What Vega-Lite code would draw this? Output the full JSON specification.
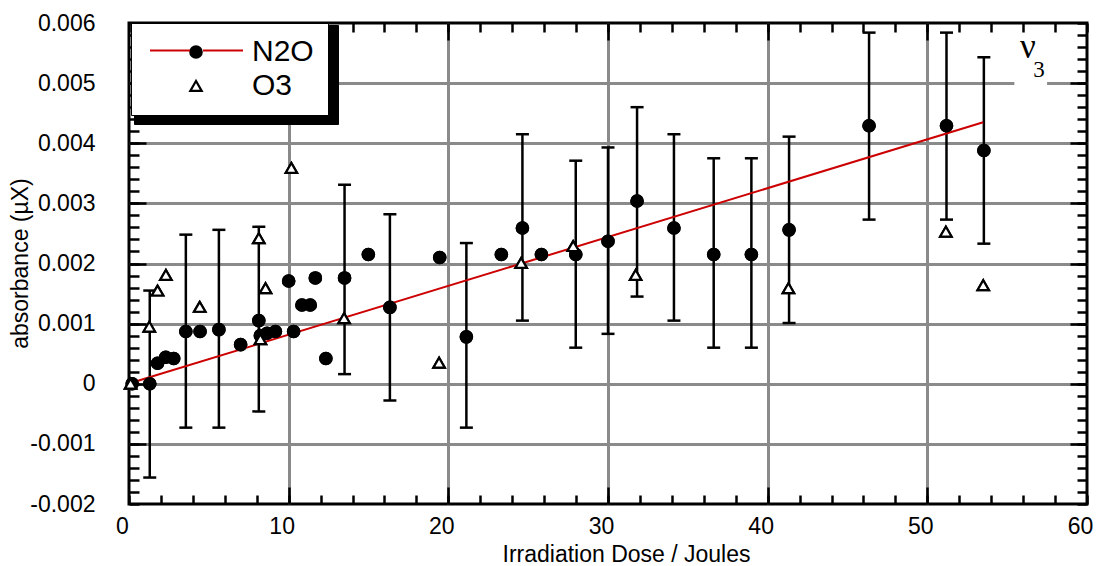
{
  "$schema": "https://vega.github.io/schema/vega-lite/v6.json",
  "width": 958,
  "height": 481,
  "autosize": {"type": "none"},
  "padding": {"left": 129, "top": 23, "right": 9, "bottom": 62},
  "background": "white",
  "config": {
    "font": "Liberation Sans",
    "view": {"stroke": "black", "strokeWidth": 3},
    "axis": {"labelFont": "Liberation Sans", "titleFont": "Liberation Sans", "labelColor": "black", "titleColor": "black", "titleFontWeight": "normal"}
  },
  "datasets": {
    "pts": [
      {"series": "N2O", "x": 0.2, "y": 0},
      {"series": "N2O", "x": 1.3, "y": 0},
      {"series": "N2O", "x": 1.79, "y": 0.00034},
      {"series": "N2O", "x": 2.3, "y": 0.00044},
      {"series": "N2O", "x": 2.8, "y": 0.00042},
      {"series": "N2O", "x": 3.56, "y": 0.00087},
      {"series": "N2O", "x": 4.45, "y": 0.00087},
      {"series": "N2O", "x": 5.63, "y": 0.0009},
      {"series": "N2O", "x": 6.99, "y": 0.00065},
      {"series": "N2O", "x": 8.13, "y": 0.00105},
      {"series": "N2O", "x": 8.23, "y": 0.0008},
      {"series": "N2O", "x": 8.65, "y": 0.00084},
      {"series": "N2O", "x": 9.17, "y": 0.00087},
      {"series": "N2O", "x": 10.0, "y": 0.00171},
      {"series": "N2O", "x": 10.31, "y": 0.00087},
      {"series": "N2O", "x": 10.83, "y": 0.00131},
      {"series": "N2O", "x": 11.35, "y": 0.00131},
      {"series": "N2O", "x": 11.67, "y": 0.00176},
      {"series": "N2O", "x": 12.33, "y": 0.00042},
      {"series": "N2O", "x": 13.5, "y": 0.00176},
      {"series": "N2O", "x": 14.99, "y": 0.00215},
      {"series": "N2O", "x": 16.34, "y": 0.00127},
      {"series": "N2O", "x": 19.46, "y": 0.0021},
      {"series": "N2O", "x": 21.13, "y": 0.00078},
      {"series": "N2O", "x": 23.32, "y": 0.00215},
      {"series": "N2O", "x": 24.64, "y": 0.00259},
      {"series": "N2O", "x": 25.83, "y": 0.00215},
      {"series": "N2O", "x": 27.98, "y": 0.00215},
      {"series": "N2O", "x": 30.0, "y": 0.00237},
      {"series": "N2O", "x": 31.82, "y": 0.00304},
      {"series": "N2O", "x": 34.13, "y": 0.00259},
      {"series": "N2O", "x": 36.62, "y": 0.00215},
      {"series": "N2O", "x": 38.98, "y": 0.00215},
      {"series": "N2O", "x": 41.34, "y": 0.00256},
      {"series": "N2O", "x": 46.35, "y": 0.00429},
      {"series": "N2O", "x": 51.2, "y": 0.00429},
      {"series": "N2O", "x": 53.54, "y": 0.00388},
      {"series": "O3", "x": 0.1, "y": 0},
      {"series": "O3", "x": 1.27, "y": 0.00095},
      {"series": "O3", "x": 1.79, "y": 0.00155},
      {"series": "O3", "x": 2.31, "y": 0.00181},
      {"series": "O3", "x": 4.43, "y": 0.00128},
      {"series": "O3", "x": 8.13, "y": 0.00242},
      {"series": "O3", "x": 8.23, "y": 0.00074},
      {"series": "O3", "x": 8.55, "y": 0.00159},
      {"series": "O3", "x": 10.17, "y": 0.00359},
      {"series": "O3", "x": 13.47, "y": 0.00109},
      {"series": "O3", "x": 19.42, "y": 0.00035},
      {"series": "O3", "x": 24.56, "y": 0.00201},
      {"series": "O3", "x": 27.82, "y": 0.00229},
      {"series": "O3", "x": 31.73, "y": 0.00181},
      {"series": "O3", "x": 41.3, "y": 0.00159},
      {"series": "O3", "x": 51.16, "y": 0.00253},
      {"series": "O3", "x": 53.5, "y": 0.00164}
    ],
    "err": [
      {"x": 1.3, "lo": -0.00156, "hi": 0.00155},
      {"x": 3.56, "lo": -0.00073, "hi": 0.00248},
      {"x": 5.63, "lo": -0.00073, "hi": 0.00256},
      {"x": 8.13, "lo": -0.00046, "hi": 0.00261},
      {"x": 13.5, "lo": 0.00016, "hi": 0.00331},
      {"x": 16.34, "lo": -0.00028, "hi": 0.00282},
      {"x": 21.13, "lo": -0.00073, "hi": 0.00234},
      {"x": 24.64, "lo": 0.00105, "hi": 0.00415},
      {"x": 27.98, "lo": 0.0006, "hi": 0.00371},
      {"x": 30.0, "lo": 0.00083, "hi": 0.00393},
      {"x": 31.82, "lo": 0.00145, "hi": 0.0046},
      {"x": 34.13, "lo": 0.00105, "hi": 0.00415},
      {"x": 36.62, "lo": 0.0006, "hi": 0.00375},
      {"x": 38.98, "lo": 0.0006, "hi": 0.00375},
      {"x": 41.34, "lo": 0.00101, "hi": 0.00411},
      {"x": 46.35, "lo": 0.00273, "hi": 0.00584},
      {"x": 51.2, "lo": 0.00273, "hi": 0.00584},
      {"x": 53.54, "lo": 0.00233, "hi": 0.00543}
    ],
    "fit": [
      {"series": "N2O", "x": 0.2, "y": 0.00002},
      {"series": "N2O", "x": 53.5, "y": 0.00435}
    ],
    "note": [
      {"nu": "ν", "sub": "3"}
    ]
  },
  "resolve": {"axis": {"x": "independent", "y": "independent"}},
  "layer": [
    {
      "data": {"name": "pts"},
      "mark": {"type": "point", "opacity": 0},
      "encoding": {
        "x": {"field": "x", "type": "quantitative", "scale": {"domain": [0, 60], "nice": false, "zero": false},
          "axis": {"orient": "bottom", "values": [0, 10, 20, 30, 40, 50, 60], "ticks": false, "tickSize": 0, "grid": false, "domain": false,
            "labelFontSize": 23, "labelPadding": 11, "labelOffset": -7, "labelFlush": false, "labelOverlap": false,
            "title": "Irradiation Dose / Joules", "titleFontSize": 23, "titleX": 497, "titleY": 57, "titleBaseline": "alphabetic", "titleAlign": "center"}},
        "y": {"field": "y", "type": "quantitative", "scale": {"domain": [-0.002, 0.006], "nice": false, "zero": false},
          "axis": {"orient": "left", "values": [-0.002, -0.001, 0, 0.001, 0.002, 0.003, 0.004, 0.005, 0.006], "ticks": false, "tickSize": 0, "grid": false, "domain": false,
            "labelExpr": "datum.value == 0 ? '0' : '' + datum.value",
            "labelFontSize": 23, "labelPadding": 34, "labelFlush": false, "labelOverlap": false,
            "title": "absorbance (µX)", "titleFontSize": 23, "titleX": -109, "titleY": 240, "titleAngle": 270, "titleBaseline": "middle", "titleAlign": "center"}},
        "size": {"field": "series", "type": "nominal", "scale": {"domain": ["O3", "N2O"], "range": [130, 130]},
          "legend": {"orient": "none", "legendX": 5, "legendY": 2, "title": null, "padding": 17.5, "rowPadding": 4, "symbolSize": 130, "symbolStrokeWidth": 2.2,
            "symbolOffset": 36, "labelOffset": 41, "labelFontSize": 30, "labelFont": "Liberation Sans", "labelColor": "black", "labelLimit": 400,
            "fillColor": "black", "strokeColor": "black"}}
      }
    },
    {
      "data": {"name": "pts"},
      "mark": {"type": "point", "opacity": 1, "size": 130, "stroke": "black", "strokeWidth": 2.2},
      "encoding": {
        "x": {"field": "x", "type": "quantitative",
          "axis": {"orient": "bottom", "values": [10, 20, 30, 40, 50], "tickSize": -17, "tickWidth": 2.5, "tickColor": "black", "labels": false, "domain": false, "title": null,
            "grid": true, "gridColor": "#8a8a8a", "gridWidth": 3}},
        "y": {"field": "y", "type": "quantitative",
          "axis": {"orient": "left", "values": [-0.001, 0, 0.001, 0.002, 0.003, 0.004, 0.005], "tickSize": -17, "tickWidth": 2.5, "tickColor": "black", "labels": false, "domain": false, "title": null,
            "grid": true, "gridColor": "#8a8a8a", "gridWidth": 3}},
        "shape": {"field": "series", "type": "nominal", "scale": {"range": ["circle", "triangle-up"]},
          "legend": {"orient": "none", "legendX": 2, "legendY": 0, "title": null, "padding": 14, "rowPadding": 4, "symbolSize": 130, "symbolStrokeWidth": 2.2,
            "symbolOffset": 36, "labelOffset": 41, "labelFontSize": 30, "labelFont": "Liberation Sans", "labelColor": "black", "labelLimit": 400,
            "fillColor": "white", "strokeColor": "black",
            "encode": {"legend": {"update": {"strokeWidth": {"value": 3}}}, "symbols": {"update": {"stroke": {"value": "black"}, "strokeWidth": {"value": 2.2}, "opacity": {"value": 1}}}}}},
        "fill": {"field": "series", "type": "nominal", "scale": {"range": ["black", "white"]},
          "legend": {"orient": "none", "legendX": 2, "legendY": 0, "title": null, "padding": 14, "rowPadding": 4, "symbolSize": 130, "symbolStrokeWidth": 2.2,
            "symbolOffset": 36, "labelOffset": 41, "labelFontSize": 30, "labelFont": "Liberation Sans", "labelColor": "black", "labelLimit": 400,
            "fillColor": "white", "strokeColor": "black",
            "encode": {"legend": {"update": {"strokeWidth": {"value": 3}}}, "symbols": {"update": {"stroke": {"value": "black"}, "strokeWidth": {"value": 2.2}, "opacity": {"value": 1}}}}}}
      }
    },
    {
      "data": {"name": "err"},
      "mark": {"type": "rule", "color": "black", "strokeWidth": 2.5},
      "encoding": {
        "x": {"field": "x", "type": "quantitative",
          "axis": {"orient": "bottom", "values": [0, 2, 4, 6, 8, 10, 12, 14, 16, 18, 20, 22, 24, 26, 28, 30, 32, 34, 36, 38, 40, 42, 44, 46, 48, 50, 52, 54, 56, 58, 60],
            "tickSize": -9, "tickWidth": 2.5, "tickColor": "black", "labels": false, "domain": false, "grid": false, "title": null}},
        "y": {"field": "lo", "type": "quantitative",
          "axis": {"orient": "left", "values": [-0.002, -0.0018, -0.0016, -0.0014, -0.0012, -0.001, -0.0008, -0.0006, -0.0004, -0.0002, 0, 0.0002, 0.0004, 0.0006, 0.0008, 0.001, 0.0012, 0.0014, 0.0016, 0.0018, 0.002, 0.0022, 0.0024, 0.0026, 0.0028, 0.003, 0.0032, 0.0034, 0.0036, 0.0038, 0.004, 0.0042, 0.0044, 0.0046, 0.0048, 0.005, 0.0052, 0.0054, 0.0056, 0.0058, 0.006],
            "tickSize": -10, "tickWidth": 2.5, "tickColor": "black", "labels": false, "domain": false, "grid": false, "title": null}},
        "y2": {"field": "hi"}
      }
    },
    {
      "data": {"name": "err"},
      "mark": {"type": "tick", "orient": "horizontal", "color": "black", "size": 13, "thickness": 2.5, "opacity": 1},
      "encoding": {
        "x": {"field": "x", "type": "quantitative",
          "axis": {"orient": "top", "values": [10, 20, 30, 40, 50], "tickSize": -17, "tickWidth": 2.5, "tickColor": "black", "labels": false, "domain": false, "grid": false, "title": null}},
        "y": {"field": "lo", "type": "quantitative",
          "axis": {"orient": "right", "values": [-0.001, 0, 0.001, 0.002, 0.003, 0.004, 0.005], "tickSize": -17, "tickWidth": 2.5, "tickColor": "black", "labels": false, "domain": false, "grid": false, "title": null}}
      }
    },
    {
      "data": {"name": "err"},
      "mark": {"type": "tick", "orient": "horizontal", "color": "black", "size": 13, "thickness": 2.5, "opacity": 1},
      "encoding": {
        "x": {"field": "x", "type": "quantitative",
          "axis": {"orient": "top", "values": [0, 2, 4, 6, 8, 10, 12, 14, 16, 18, 20, 22, 24, 26, 28, 30, 32, 34, 36, 38, 40, 42, 44, 46, 48, 50, 52, 54, 56, 58, 60],
            "tickSize": -9, "tickWidth": 2.5, "tickColor": "black", "labels": false, "domain": false, "grid": false, "title": null}},
        "y": {"field": "hi", "type": "quantitative",
          "axis": {"orient": "right", "values": [-0.002, -0.0018, -0.0016, -0.0014, -0.0012, -0.001, -0.0008, -0.0006, -0.0004, -0.0002, 0, 0.0002, 0.0004, 0.0006, 0.0008, 0.001, 0.0012, 0.0014, 0.0016, 0.0018, 0.002, 0.0022, 0.0024, 0.0026, 0.0028, 0.003, 0.0032, 0.0034, 0.0036, 0.0038, 0.004, 0.0042, 0.0044, 0.0046, 0.0048, 0.005, 0.0052, 0.0054, 0.0056, 0.0058, 0.006],
            "tickSize": -10, "tickWidth": 2.5, "tickColor": "black", "labels": false, "domain": false, "grid": false, "title": null}}
      }
    },
    {
      "data": {"name": "fit"},
      "mark": {"type": "line", "strokeWidth": 2},
      "encoding": {
        "x": {"field": "x", "type": "quantitative", "axis": null},
        "y": {"field": "y", "type": "quantitative", "axis": null},
        "stroke": {"field": "series", "type": "nominal", "scale": {"domain": ["N2O"], "range": ["#cc0000"]},
          "legend": {"orient": "none", "legendX": 20, "legendY": -20, "title": null, "padding": 0, "symbolType": "M-1,0L-0.14,0M0.14,0L1,0", "symbolSize": 8649,
            "symbolStrokeWidth": 2, "labelFontSize": 30, "labelColor": "transparent", "labelExpr": "''"}}
      }
    },
    {
      "data": {"name": "pts"},
      "mark": {"type": "point", "opacity": 1, "size": 130, "stroke": "black", "strokeWidth": 2.2},
      "encoding": {
        "x": {"field": "x", "type": "quantitative", "axis": null},
        "y": {"field": "y", "type": "quantitative", "axis": null},
        "shape": {"field": "series", "type": "nominal", "legend": null},
        "fill": {"field": "series", "type": "nominal", "legend": null}
      }
    },
    {
      "data": {"name": "note"},
      "mark": {"type": "rect", "fill": "white"},
      "encoding": {
        "x": {"datum": 55.45, "type": "quantitative", "axis": null},
        "x2": {"datum": 57.5},
        "y": {"datum": 0.00494, "type": "quantitative", "axis": null},
        "y2": {"datum": 0.00506}
      }
    },
    {
      "data": {"name": "note"},
      "mark": {"type": "text", "font": "Liberation Serif", "fontSize": 35, "align": "center", "baseline": "alphabetic", "color": "black"},
      "encoding": {
        "text": {"field": "nu"},
        "x": {"datum": 56.3, "type": "quantitative", "axis": null},
        "y": {"datum": 0.00541, "type": "quantitative", "axis": null}
      }
    },
    {
      "data": {"name": "note"},
      "mark": {"type": "text", "font": "Liberation Serif", "fontSize": 23, "align": "center", "baseline": "alphabetic", "color": "black"},
      "encoding": {
        "text": {"field": "sub"},
        "x": {"datum": 57.0, "type": "quantitative", "axis": null},
        "y": {"datum": 0.005105, "type": "quantitative", "axis": null}
      }
    }
  ]
}
